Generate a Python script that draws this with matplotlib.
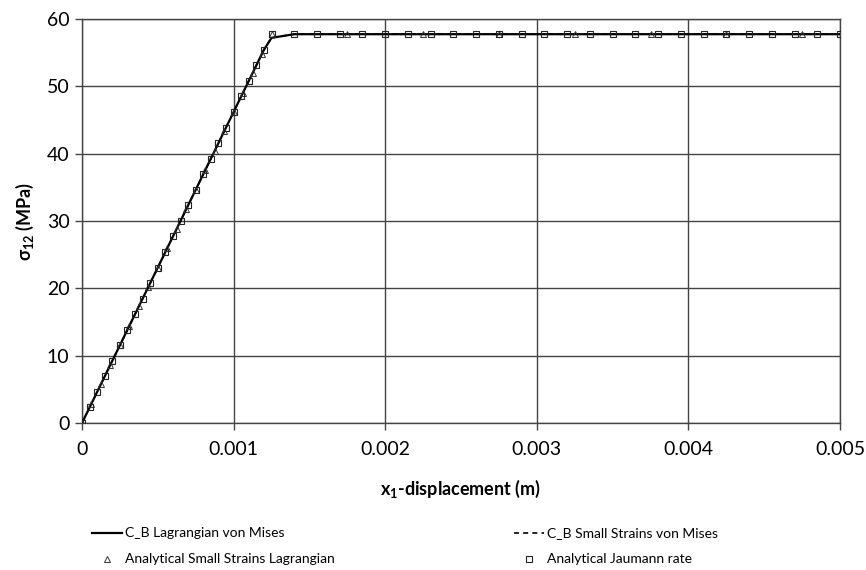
import matplotlib
matplotlib.use('Agg')
import matplotlib.pyplot as plt

plt.rcParams['font.family'] = ['Lato', 'DejaVu Sans']
plt.rcParams['mathtext.fontset'] = 'custom'
plt.rcParams['mathtext.rm'] = 'Lato'
plt.rcParams['mathtext.bf'] = 'Lato:bold'

# FE results (both models give the same curve)
fe_x = [0, 0.0002, 0.0004, 0.0006, 0.0008, 0.001, 0.0012, 0.00125, 0.0014, 0.002, 0.003, 0.004, 0.005]
fe_lagr = [0, 9.24, 18.48, 27.71, 36.95, 46.19, 55.43, 57.2, 57.74, 57.74, 57.74, 57.74, 57.74]
fe_small = [0, 9.24, 18.48, 27.71, 36.95, 46.19, 55.43, 57.2, 57.74, 57.74, 57.74, 57.74, 57.74]

# analytical small strains (Lagrangian)
tri_x = [0, 0.0000625, 0.000125, 0.0001875, 0.00025, 0.0003125, 0.000375, 0.0004375,
         0.0005, 0.0005625, 0.000625, 0.0006875, 0.00075, 0.0008125, 0.000875, 0.0009375,
         0.001, 0.0010625, 0.001125, 0.0011875, 0.00125,
         0.00175, 0.00225, 0.00275, 0.00325, 0.00375, 0.00425, 0.00475]
tri_y = [0, 2.89, 5.77, 8.66, 11.55, 14.43, 17.32, 20.21, 23.09, 25.98, 28.87, 31.75,
         34.64, 37.53, 40.41, 43.30, 46.19, 49.07, 51.96, 54.85, 57.74,
         57.74, 57.74, 57.74, 57.74, 57.74, 57.74, 57.74]

# analytical Jaumann rate
sq_x = [0, 0.00005, 0.0001, 0.00015, 0.0002, 0.00025, 0.0003, 0.00035, 0.0004, 0.00045,
        0.0005, 0.00055, 0.0006, 0.00065, 0.0007, 0.00075, 0.0008, 0.00085, 0.0009, 0.00095,
        0.001, 0.00105, 0.0011, 0.00115, 0.0012, 0.00125,
        0.0014, 0.00155, 0.0017, 0.00185, 0.002, 0.00215, 0.0023, 0.00245, 0.0026, 0.00275,
        0.0029, 0.00305, 0.0032, 0.00335, 0.0035, 0.00365, 0.0038, 0.00395, 0.0041, 0.00425,
        0.0044, 0.00455, 0.0047, 0.00485, 0.005]
sq_y = [0, 2.31, 4.62, 6.93, 9.24, 11.55, 13.86, 16.17, 18.48, 20.79,
        23.09, 25.40, 27.71, 30.02, 32.33, 34.64, 36.95, 39.26, 41.57, 43.88,
        46.19, 48.50, 50.81, 53.12, 55.43, 57.74,
        57.74, 57.74, 57.74, 57.74, 57.74, 57.74, 57.74, 57.74, 57.74, 57.74,
        57.74, 57.74, 57.74, 57.74, 57.74, 57.74, 57.74, 57.74, 57.74, 57.74,
        57.74, 57.74, 57.74, 57.74, 57.74]

xticks = [0, 0.001, 0.002, 0.003, 0.004, 0.005]
xticklabels = ['0', '0.001', '0.002', '0.003', '0.004', '0.005']
yticks = [0, 10, 20, 30, 40, 50, 60]

fig = plt.figure(figsize=(8.66, 5.70), dpi=100)
ax = fig.add_axes([0.0947, 0.2579, 0.8753, 0.7088])

l1, = ax.plot(fe_x, fe_lagr, color='black', lw=1.6, label='C_B Lagrangian von Mises', zorder=3)
l2, = ax.plot(fe_x, fe_small, color='black', lw=1.2, ls=(0, (3, 2.5)), label='C_B Small Strains von Mises', zorder=3)
m1, = ax.plot(tri_x, tri_y, ls='none', marker='^', ms=4, mfc='none', mec='#333333', mew=0.7,
              label='Analytical Small Strains Lagrangian', zorder=4)
m2, = ax.plot(sq_x, sq_y, ls='none', marker='s', ms=5, mfc='none', mec='#222222', mew=0.8,
              label='Analytical Jaumann rate', zorder=4)

ax.set_xlim(0, 0.005)
ax.set_ylim(0, 60)
ax.set_xticks(xticks)
ax.set_xticklabels(xticklabels)
ax.set_yticks(yticks)
ax.grid(True, color='#444444', lw=1)
for s in ax.spines.values():
    s.set_color('#444444')
    s.set_linewidth(1)
ax.tick_params(direction='out', length=5, width=1, color='#444444', labelsize=14)
ax.tick_params(axis='x', pad=8)
ax.tick_params(axis='y', pad=4)

ax.set_xlabel('x$_\\mathbf{1}$-displacement (m)', fontsize=13, fontweight='bold', labelpad=14)
ax.set_ylabel('σ$_\\mathbf{12}$ (MPa)', fontsize=13, fontweight='bold', labelpad=8)

# legend: one column per pair of series
leg_kw = dict(frameon=False, fontsize=10, loc='upper left', handlelength=2.2,
              handletextpad=0.2, labelspacing=1.0)
leg1 = fig.legend([l1, m1], [l1.get_label(), m1.get_label()],
                  bbox_to_anchor=(0.0917, 0.0965), **leg_kw)
leg2 = fig.legend([l2, m2], [l2.get_label(), m2.get_label()],
                  bbox_to_anchor=(0.579, 0.0965), **leg_kw)

fig.savefig('out.png', dpi=100)
